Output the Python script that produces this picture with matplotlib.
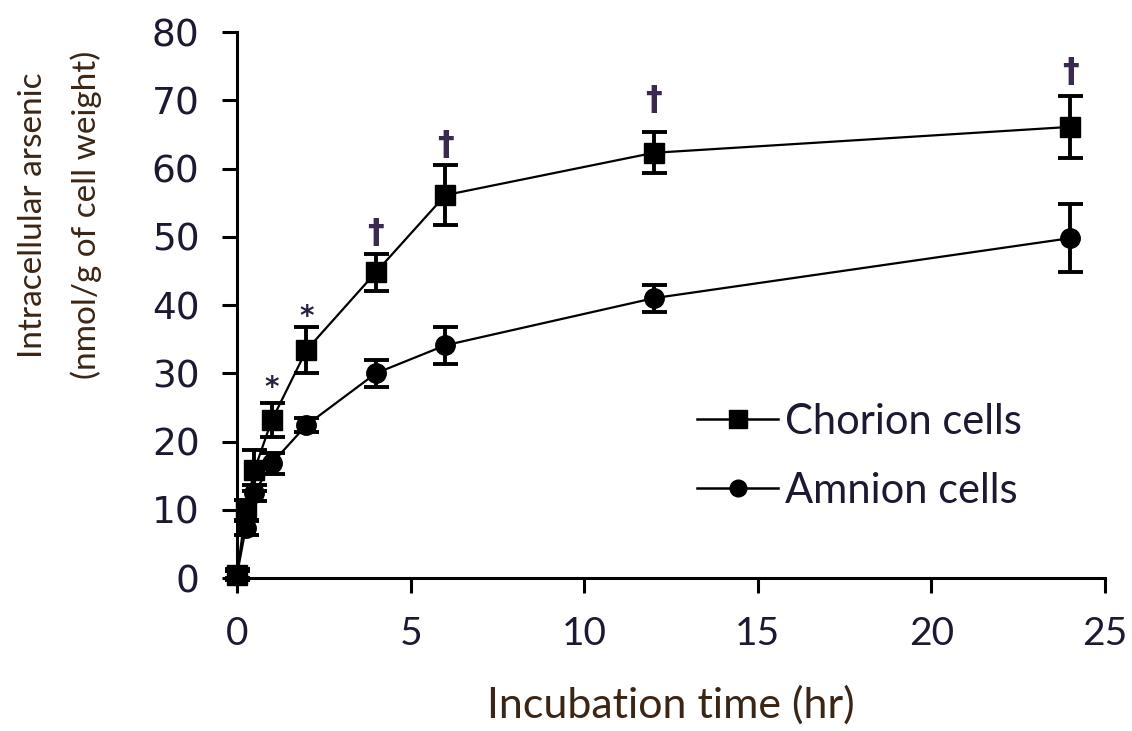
import matplotlib
matplotlib.use('Agg')
import matplotlib.pyplot as plt
from matplotlib.lines import Line2D

# incubation times (hr)
hours = [0, 0.25, 0.5, 1, 2, 4, 6, 12, 24]

# intracellular arsenic, nmol/g of cell weight
chorion = [0.5, 10.0, 15.8, 23.1, 33.4, 44.8, 56.1, 62.3, 66.1]
chorion_err = [0.8, 1.5, 3.0, 2.5, 3.4, 2.7, 4.4, 3.0, 4.5]
amnion = [0.5, 7.3, 12.5, 16.8, 22.4, 30.0, 34.1, 41.0, 49.8]
amnion_err = [0.5, 1.0, 1.2, 1.5, 1.0, 2.0, 2.7, 2.0, 5.0]

# significance marks drawn above the chorion points
star_hours = [1, 2]
star_y = [27.8, 38.2]
dagger_hours = [4, 6, 12, 24]
dagger_y = [50.5, 63.4, 70.0, 74.1]

label_col = '#3b2616'
tick_col = '#1c1a33'

fig = plt.figure(figsize=(11.32, 7.31), dpi=100)
ax = fig.add_axes([0.2094, 0.2093, 0.7668, 0.7469])

ax.errorbar(hours, chorion, yerr=chorion_err, color='black', marker='s',
            markersize=15, linewidth=1.6, elinewidth=2.8, capsize=9, capthick=2.8,
            clip_on=False, zorder=3)
ax.errorbar(hours, amnion, yerr=amnion_err, color='black', marker='o',
            markersize=14, linewidth=1.6, elinewidth=2.8, capsize=9, capthick=2.8,
            clip_on=False, zorder=3)

for hx, hy in zip(star_hours, star_y):
    ax.text(hx, hy, '*', ha='center', va='center', fontsize=20,
            color='#2a2040', fontweight='bold')
for hx, hy in zip(dagger_hours, dagger_y):
    ax.text(hx, hy, '†', ha='center', va='center', fontsize=24,
            color='#3a2a50', fontweight='bold')

ax.set_xlim(0, 25)
ax.set_ylim(0, 80)
ax.set_xticks([0, 5, 10, 15, 20, 25])
ax.set_yticks(range(0, 81, 10))

ax.spines['top'].set_visible(False)
ax.spines['right'].set_visible(False)
ax.spines['left'].set_linewidth(2.2)
ax.spines['bottom'].set_linewidth(2.2)
ax.tick_params(direction='out', length=11, width=2.2, colors='black')
ax.tick_params(axis='x', pad=16)
ax.tick_params(axis='y', pad=16)

for lab in ax.get_xticklabels():
    lab.set_fontfamily('Lato')
    lab.set_fontsize(28)
    lab.set_color(tick_col)
for lab in ax.get_yticklabels():
    lab.set_fontfamily('DejaVu Sans')
    lab.set_fontsize(27)
    lab.set_color(tick_col)

ax.set_xlabel('Incubation time (hr)', fontsize=31, family='Lato',
              color=label_col, labelpad=24)
fig.text(0.053, 0.706, 'Intracellular arsenic\n(nmol/g of cell weight)',
         rotation=90, ha='center', va='center', fontsize=24, family='Lato',
         color=label_col, linespacing=1.9)

handles = [Line2D([], [], color='black', marker='s', markersize=13, linewidth=1.8),
           Line2D([], [], color='black', marker='o', markersize=12, linewidth=1.8)]
leg = ax.legend(handles, ['Chorion cells', 'Amnion cells'], loc='center left',
                bbox_to_anchor=(0.53, 0.223), frameon=False,
                prop={'family': 'Lato', 'size': 30}, handlelength=1.95,
                handletextpad=0.15, labelspacing=0.75, borderaxespad=0,
                borderpad=0)
for t in leg.get_texts():
    t.set_color(tick_col)

fig.savefig('out.png', dpi=100)
